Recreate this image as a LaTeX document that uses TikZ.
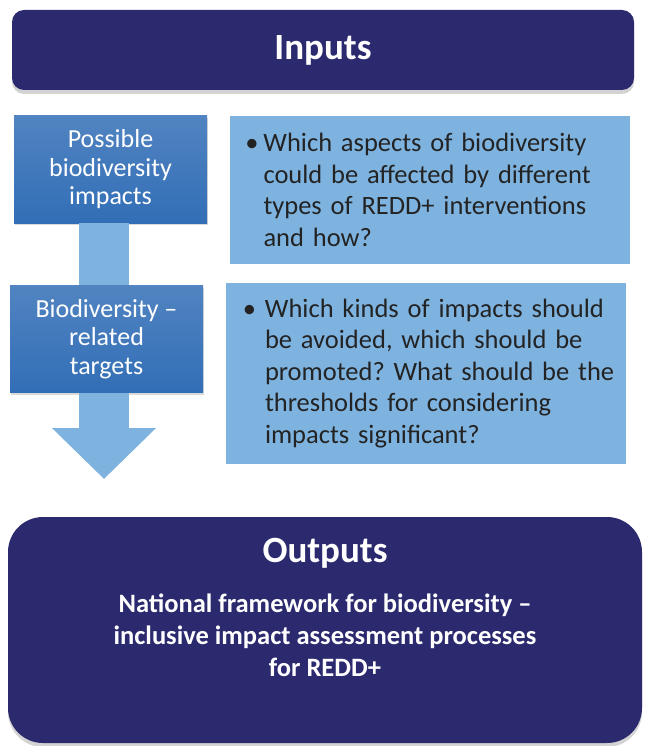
\documentclass[tikz,border=0pt]{standalone}
\usepackage{fontspec}
\setmainfont{Carlito}
\usetikzlibrary{arrows.meta,shadows}

\definecolor{navy}{RGB}{44,42,110}
\definecolor{steel}{RGB}{50,110,182}
\definecolor{pale}{RGB}{126,179,224}
\definecolor{ink}{RGB}{35,35,35}

\begin{document}
\begin{tikzpicture}[x=1pt, y=-1pt,
  header/.style={rounded corners=#1, fill=navy, text=white, inner sep=0pt,
                 drop shadow={shadow xshift=0pt, shadow yshift=-4pt, opacity=.35}},
  stage/.style={top color=steel!85!white, bottom color=steel, text=white,
                font=\fontsize{26}{28.5}\selectfont, align=center,
                minimum width=193pt, minimum height=107pt, inner sep=0pt,
                drop shadow={shadow xshift=1pt, shadow yshift=-2pt, opacity=.3}},
  question/.style={fill=pale, text=ink, font=\fontsize{26.5}{31.5}\selectfont\frenchspacing,
                   text width=390pt, inner xsep=5pt, align=left},
  flow/.style={draw=pale, line width=50pt},
  outtxt/.style={text=white, font=\bfseries, align=center}
]
  \useasboundingbox (0,0) rectangle (645,746);

  % Bandeau du haut
  \node[header=12pt, minimum width=622pt, minimum height=80pt,
        font=\fontsize{37}{44}\selectfont\bfseries] (inputs) at (323,50) {Inputs};

  % Etapes a gauche
  \node[stage] (impacts) at (110.5,169.5) {Possible\\biodiversity\\impacts};
  \node[stage] (targets) at (106.5,339) {Biodiversity –\\related\\targets};

  % Questions a droite
  \node[question, minimum height=148pt] (aspects) at (429.5,190)
    {\leftskip=29pt\noindent\llap{\textbullet\hspace{5pt}}Which aspects of biodiversity\\
     could be affected by different\\types of REDD+ interventions\\and how?\par};
  \node[question, minimum height=181pt] (kinds) at (426,373.5)
    {\leftskip=34pt\noindent\llap{\textbullet\hspace{9pt}}Which kinds of impacts should\\
     be avoided, which should be\\promoted? What should be the\\
     thresholds for considering\\impacts significant?\par};

  % Fleches
  \coordinate (tip) at (104,479);
  \draw[flow] (impacts.south -| tip) -- (targets.north -| tip);
  \draw[flow, -{Triangle[length=51pt, width=101pt]}] (targets.south -| tip) -- (tip);

  % Bloc du bas
  \node[header=35pt, minimum width=634pt, minimum height=226pt] (outputs) at (325,630) {};
  \node[outtxt, font=\fontsize{37}{44}\selectfont\bfseries] (outtitle) at (325,553) {Outputs};
  \node[outtxt, font=\fontsize{26.5}{32}\selectfont\bfseries] (outbody) at (325,635)
    {National framework for biodiversity –\\inclusive impact assessment processes\\for REDD+};
\end{tikzpicture}
\end{document}
